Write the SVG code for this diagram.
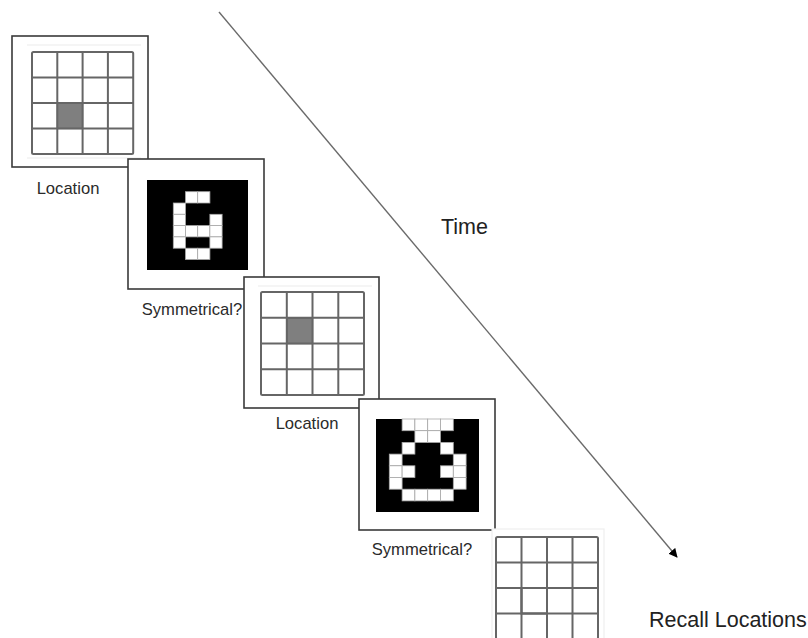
<svg xmlns="http://www.w3.org/2000/svg" width="808" height="638" viewBox="0 0 808 638">
<style>
.frame{fill:#fff;stroke:#3a3a3a;stroke-width:1.6}
.faint{stroke:#ececec;stroke-width:1.2;fill:none}
.grid{fill:none;stroke:#666;stroke-width:2}
.shade{fill:#7f7f7f;stroke:#555;stroke-width:1.2}
.blk{fill:#000}
.wc{fill:#fff;stroke:#aaa;stroke-width:0.8}
.lbl{font-family:"Liberation Sans",Arial,sans-serif;font-size:16.6px;fill:#2a2a2a;text-anchor:middle}
.big{font-family:"Liberation Sans",Arial,sans-serif;font-size:21.5px;fill:#222}
</style>
<defs>
<marker id="ah" viewBox="0 0 10 10" refX="9" refY="5" markerWidth="9" markerHeight="9" markerUnits="userSpaceOnUse" orient="auto">
<path d="M0,0 L10,5 L0,10 z" fill="#000"/>
</marker>
</defs>
<rect width="808" height="638" fill="#fff"/>

<g id="connectors">
<line x1="219" y1="12" x2="677" y2="557" stroke="#6a6a6a" stroke-width="1.4" marker-end="url(#ah)"/>
</g>

<g id="panel1">
<rect class="frame" x="12" y="36" width="136" height="131"/>
<line class="faint" x1="27" y1="45" x2="141" y2="45"/>
<line class="faint" x1="27" y1="158" x2="141" y2="158"/>
<rect class="shade" x="57.3" y="103" width="25.3" height="25.5"/>
<g class="grid">
<rect x="32" y="52" width="101.2" height="102" rx="1.5"/>
<path d="M57.3,52V154M82.6,52V154M107.9,52V154M32,77.5H133.2M32,103H133.2M32,128.5H133.2"/>
</g>
<text class="lbl" x="68" y="194">Location</text>
</g>

<g id="panel2">
<rect class="frame" x="128" y="159" width="136" height="130"/>
<rect class="blk" x="147" y="180" width="101" height="90"/>
<g>
<rect class="wc" x="185.5" y="191.7" width="12.2" height="11.3"/>
<rect class="wc" x="197.7" y="191.7" width="12.2" height="11.3"/>
<rect class="wc" x="173.3" y="203" width="12.2" height="11.3"/>
<rect class="wc" x="173.3" y="214.3" width="12.2" height="11.3"/>
<rect class="wc" x="209.9" y="214.3" width="12.2" height="11.3"/>
<rect class="wc" x="173.3" y="225.6" width="12.2" height="11.3"/>
<rect class="wc" x="185.5" y="225.6" width="12.2" height="11.3"/>
<rect class="wc" x="197.7" y="225.6" width="12.2" height="11.3"/>
<rect class="wc" x="209.9" y="225.6" width="12.2" height="11.3"/>
<rect class="wc" x="173.3" y="236.9" width="12.2" height="11.3"/>
<rect class="wc" x="209.9" y="236.9" width="12.2" height="11.3"/>
<rect class="wc" x="185.5" y="248.2" width="12.2" height="11.3"/>
<rect class="wc" x="197.7" y="248.2" width="12.2" height="11.3"/>
</g>
<text class="lbl" x="192" y="315">Symmetrical?</text>
</g>

<g id="panel3">
<rect class="frame" x="244" y="277" width="135" height="131"/>
<line class="faint" x1="258" y1="286" x2="372" y2="286"/>
<rect class="shade" x="286.8" y="317.8" width="25.8" height="25.8"/>
<g class="grid">
<rect x="261" y="292" width="103" height="103" rx="1.5"/>
<path d="M286.8,292V395M312.5,292V395M338.3,292V395M261,317.8H364M261,343.5H364M261,369.3H364"/>
</g>
<text class="lbl" x="307" y="429">Location</text>
</g>

<g id="panel4">
<rect class="frame" x="359" y="399" width="136" height="131"/>
<rect class="blk" x="376" y="419" width="103" height="93"/>
<g>
<rect class="wc" x="402.1" y="419" width="12.8" height="11.7"/>
<rect class="wc" x="414.9" y="419" width="12.8" height="11.7"/>
<rect class="wc" x="427.7" y="419" width="12.8" height="11.7"/>
<rect class="wc" x="440.5" y="419" width="12.8" height="11.7"/>
<rect class="wc" x="414.9" y="430.7" width="12.8" height="11.7"/>
<rect class="wc" x="427.7" y="430.7" width="12.8" height="11.7"/>
<rect class="wc" x="402.1" y="442.4" width="12.8" height="11.7"/>
<rect class="wc" x="440.5" y="442.4" width="12.8" height="11.7"/>
<rect class="wc" x="389.3" y="454.1" width="12.8" height="11.7"/>
<rect class="wc" x="453.3" y="454.1" width="12.8" height="11.7"/>
<rect class="wc" x="389.3" y="465.8" width="12.8" height="11.7"/>
<rect class="wc" x="402.1" y="465.8" width="12.8" height="11.7"/>
<rect class="wc" x="440.5" y="465.8" width="12.8" height="11.7"/>
<rect class="wc" x="453.3" y="465.8" width="12.8" height="11.7"/>
<rect class="wc" x="389.3" y="477.5" width="12.8" height="11.7"/>
<rect class="wc" x="453.3" y="477.5" width="12.8" height="11.7"/>
<rect class="wc" x="402.1" y="489.2" width="12.8" height="11.7"/>
<rect class="wc" x="414.9" y="489.2" width="12.8" height="11.7"/>
<rect class="wc" x="427.7" y="489.2" width="12.8" height="11.7"/>
<rect class="wc" x="440.5" y="489.2" width="12.8" height="11.7"/>
</g>
<text class="lbl" x="422" y="555">Symmetrical?</text>
</g>

<g id="panel5">
<rect x="492" y="529" width="112" height="115" fill="#fff" stroke="#efefef" stroke-width="1.2"/>
<rect x="521.5" y="588" width="25.5" height="25.5" fill="none" stroke="#444" stroke-width="2"/>
<g class="grid">
<rect x="496" y="537" width="102" height="102" rx="1.5"/>
<path d="M521.5,537V639M547,537V639M572.5,537V639M496,562.5H598M496,588H598M496,613.5H598"/>
</g>
</g>

<g id="labels">
<text class="big" x="441" y="234">Time</text>
<text class="big" x="649" y="627" font-size="21">Recall Locations</text>
</g>
</svg>
